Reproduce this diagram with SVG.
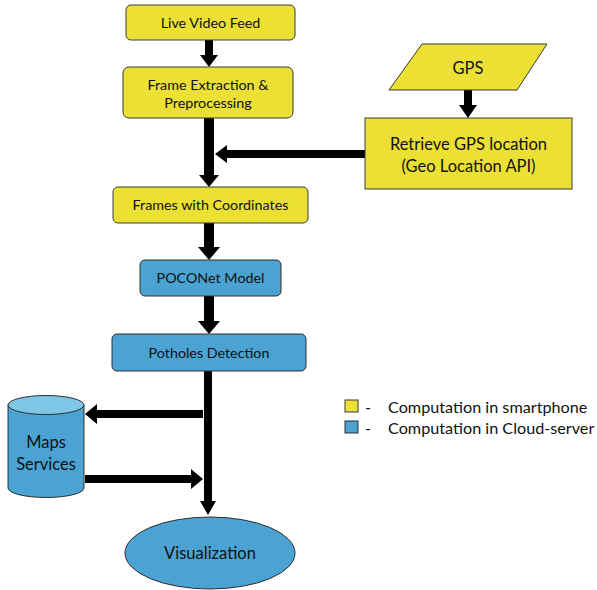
<svg xmlns="http://www.w3.org/2000/svg" width="597" height="590" viewBox="0 0 597 590">
  <style>
    .yel { fill: #ebe033; stroke: #3a3a3a; stroke-width: 1; }
    .blu { fill: #4aa3d2; stroke: #2e2e2e; stroke-width: 1; }
    .t { font-family: Lato, "Liberation Sans", sans-serif; fill: #111; text-anchor: middle; }
    .s14 { font-size: 14.3px; }
    .s17 { font-size: 16.5px; }
    .leg { font-family: Lato, "Liberation Sans", sans-serif; fill: #111; font-size: 16.2px; }
    .arr { fill: #000; }
  </style>
  <rect width="597" height="590" fill="#fff"/>

  <g id="connectors">
    <!-- Live Video Feed -> Frame Extraction -->
    <polygon class="arr" points="205,40 213,40 213,55 218,55 209,67 200,55 205,55"/>
    <!-- Frame Extraction -> Frames with Coordinates -->
    <polygon class="arr" points="204,118 214,118 214,175 219,175 209,187 199,175 204,175"/>
    <!-- GPS -> Retrieve -->
    <polygon class="arr" points="464,90 472,90 472,105 477,105 468,118 459,105 464,105"/>
    <!-- Retrieve -> main line -->
    <polygon class="arr" points="365,150 365,158 227,158 227,163 215,154 227,145 227,150"/>
    <!-- Frames with Coordinates -> POCONet -->
    <polygon class="arr" points="204,223 214,223 214,247 220,247 209,260 198,247 204,247"/>
    <!-- POCONet -> Potholes Detection -->
    <polygon class="arr" points="204,296 214,296 214,321 220,321 209,334 198,321 204,321"/>
    <!-- Potholes Detection -> Visualization -->
    <polygon class="arr" points="204,371 212,371 212,501 216,501 208,515 200,501 204,501"/>
    <!-- main line -> Maps Services -->
    <polygon class="arr" points="203,410 203,418 97,418 97,424 85,414 97,404 97,410"/>
    <!-- Maps Services -> main line -->
    <polygon class="arr" points="85,475 85,483 191,483 191,489 203,479 191,469 191,475"/>
  </g>

  <g id="live-video-feed">
    <rect class="yel" x="126" y="5" width="169" height="35" rx="5"/>
    <text class="t s14" x="210.5" y="27.5">Live Video Feed</text>
  </g>

  <g id="frame-extraction">
    <rect class="yel" x="123" y="67" width="170" height="51" rx="6"/>
    <text class="t s14" x="208" y="90">Frame Extraction &amp;</text>
    <text class="t s14" x="208" y="108">Preprocessing</text>
  </g>

  <g id="gps">
    <polygon class="yel" points="422,44 547,44 517,90 389,90"/>
    <text class="t s17" x="468" y="74">GPS</text>
  </g>

  <g id="retrieve-gps">
    <rect class="yel" x="365" y="118" width="207" height="71"/>
    <text class="t s17" x="468.5" y="150">Retrieve GPS location</text>
    <text class="t s17" x="468.5" y="172">(Geo Location API)</text>
  </g>

  <g id="frames-with-coordinates">
    <rect class="yel" x="113" y="187" width="195" height="36" rx="5"/>
    <text class="t s14" x="210.5" y="210">Frames with Coordinates</text>
  </g>

  <g id="poconet-model">
    <rect class="blu" x="140" y="260" width="141" height="36" rx="5"/>
    <text class="t s14" x="210.5" y="283">POCONet Model</text>
  </g>

  <g id="potholes-detection">
    <rect class="blu" x="112" y="334" width="194" height="37" rx="5"/>
    <text class="t s14" x="209" y="357.5">Potholes Detection</text>
  </g>

  <g id="maps-services">
    <path class="blu" d="M8,405 L8,488 A38,9.5 0 0 0 84,488 L84,405"/>
    <ellipse cx="46" cy="405" rx="38" ry="9.5" fill="#7ec7e6" stroke="#2e2e2e" stroke-width="1"/>
    <text class="t s17" x="46" y="448">Maps</text>
    <text class="t s17" x="46" y="470">Services</text>
  </g>

  <g id="visualization">
    <ellipse class="blu" cx="210" cy="553" rx="85" ry="36"/>
    <text class="t" style="font-size:16.5px" x="210" y="559">Visualization</text>
  </g>

  <g id="legend">
    <rect class="yel" x="345" y="400" width="13" height="12"/>
    <rect class="blu" x="345" y="421" width="13" height="12"/>
    <text class="leg" x="365" y="413">-</text>
    <text class="leg" x="365" y="434">-</text>
    <text class="leg" x="388" y="413">Computation in smartphone</text>
    <text class="leg" x="388" y="434">Computation in Cloud-server</text>
  </g>
</svg>
